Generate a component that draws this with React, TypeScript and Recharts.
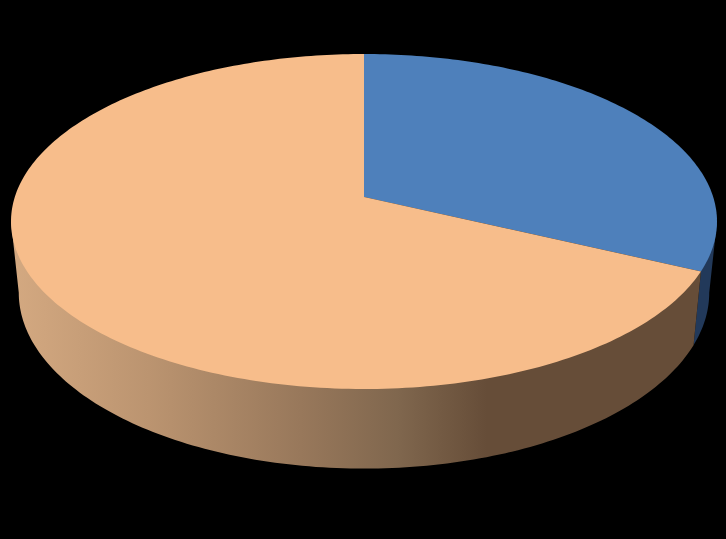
import { Pie, PieChart } from 'recharts'

const categories = ['Blue', 'Peach']
const shares = [32, 68]
const topColors = ['#4e80bb', '#f7bd8b']
const wallColors = ['#22395a', 'url(#peachWall)']

const pieData = categories.map((name, i) => ({ name, value: shares[i], fill: topColors[i] }))

// perspective of the tilted disc
const TILT = 0.1463
const SQUASH = 0.4694
const WALL_DROP = 70
const WALL_SCALE_X = 0.978
const WALL_SCALE_Y = 1.05
// clockwise from 12 o'clock: where the side wall starts and stops being visible
const WALL_FROM = 98.4
const WALL_TO = 261.6

type Pt = [number, number]

function project(deg: number, cx: number, cy: number, r: number, wall: boolean): Pt {
  const rad = (deg * Math.PI) / 180
  const w = 1 + TILT * Math.sin(rad)
  const x = (r * Math.cos(rad)) / w
  const y = (-r * SQUASH * Math.sin(rad)) / w
  if (!wall) return [cx + x, cy + y]
  return [cx + x * WALL_SCALE_X, cy + WALL_DROP + y * WALL_SCALE_Y]
}

function arc(from: number, to: number, cx: number, cy: number, r: number, wall: boolean): Pt[] {
  const steps = Math.max(2, Math.ceil(Math.abs(to - from)))
  const pts: Pt[] = []
  for (let i = 0; i <= steps; i++) {
    pts.push(project(from + ((to - from) * i) / steps, cx, cy, r, wall))
  }
  return pts
}

const toPath = (pts: Pt[]) =>
  'M' + pts.map(p => `${p[0].toFixed(2)},${p[1].toFixed(2)}`).join('L') + 'Z'

function TiltedSlice(props: any) {
  const { cx, cy, outerRadius, startAngle, endAngle, fill } = props
  const apex: Pt = [cx, cy]
  const top = [apex, ...arc(startAngle, endAngle, cx, cy, outerRadius, false)]

  // angles run clockwise from 90, so convert the wall limits
  const wallStart = Math.min(startAngle, 90 - WALL_FROM)
  const wallEnd = Math.max(endAngle, 90 - WALL_TO)
  const wallFill = wallColors[topColors.indexOf(fill)]

  return (
    <g>
      <defs>
        <linearGradient id="peachWall" gradientUnits="userSpaceOnUse" x1={11} y1={0} x2={700} y2={0}>
          <stop offset="0" stopColor="#d4a981" />
          <stop offset="0.2" stopColor="#bb9470" />
          <stop offset="0.42" stopColor="#98785b" />
          <stop offset="0.56" stopColor="#80674e" />
          <stop offset="0.69" stopColor="#664d38" />
          <stop offset="1" stopColor="#664d38" />
        </linearGradient>
      </defs>
      {wallStart > wallEnd && (
        // runs back under the top face so no dark seam shows along the rim
        <path
          d={toPath([
            apex,
            project(wallStart, cx, cy, outerRadius, false),
            ...arc(wallStart, wallEnd, cx, cy, outerRadius, true),
            project(wallEnd, cx, cy, outerRadius, false),
          ])}
          fill={wallFill}
        />
      )}
      <path d={toPath(top)} fill={fill} />
    </g>
  )
}

export default function App() {
  return (
    <div style={{ position: 'absolute', left: 0, top: 0, width: 726, height: 539, background: '#000' }}>
      <PieChart width={726} height={539} margin={{ top: 0, right: 0, bottom: 0, left: 0 }}>
        <Pie
          data={pieData}
          dataKey="value"
          nameKey="name"
          cx={364}
          cy={197}
          innerRadius={0}
          outerRadius={349.2}
          startAngle={90}
          endAngle={-270}
          stroke="none"
          shape={TiltedSlice}
          isAnimationActive={false}
        />
      </PieChart>
    </div>
  )
}
